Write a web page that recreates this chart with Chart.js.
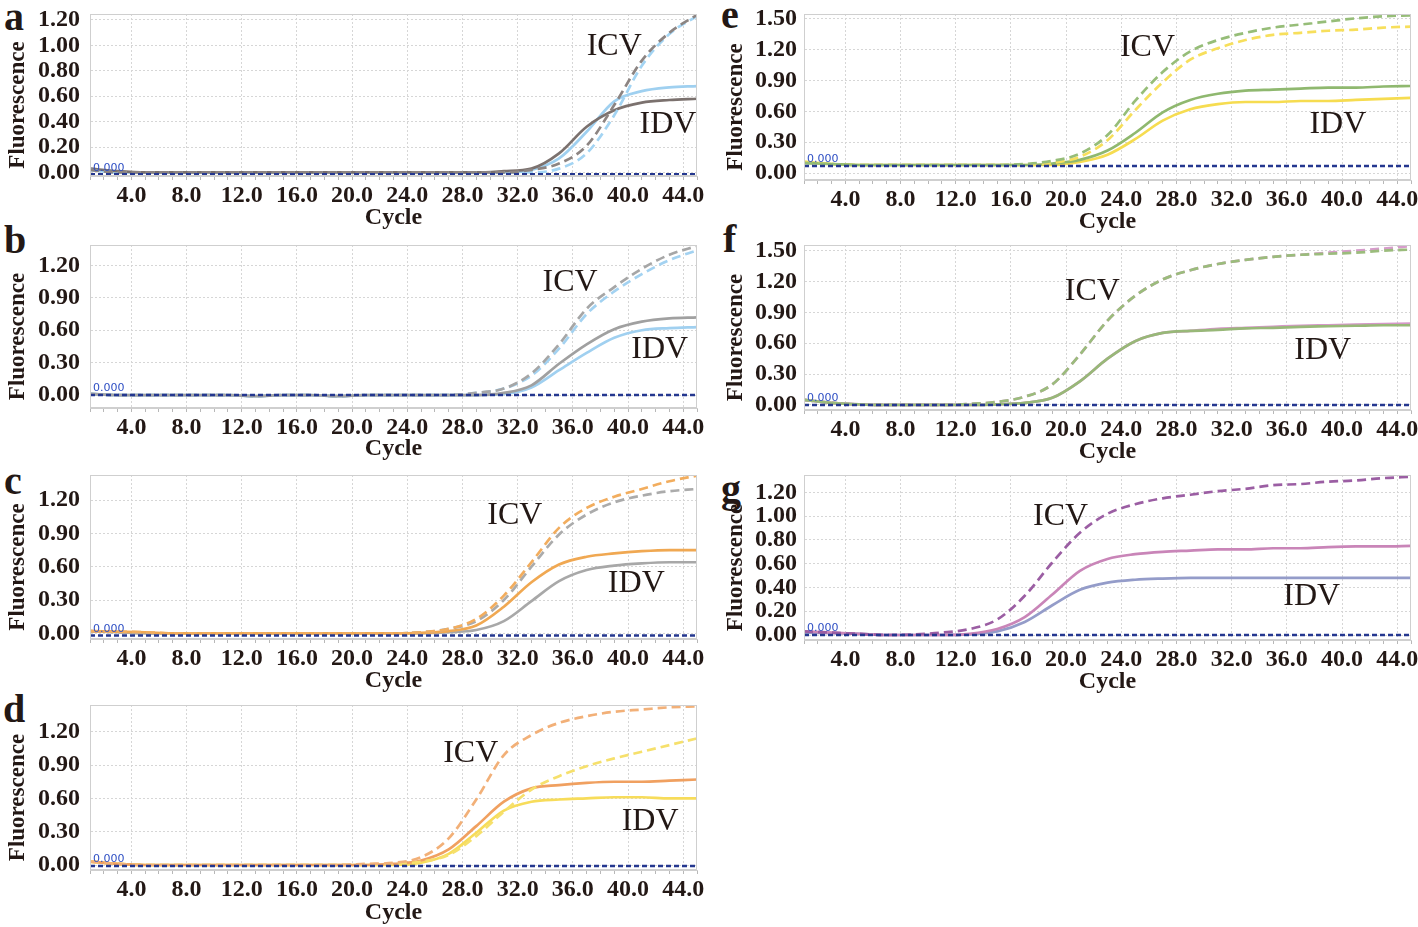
<!DOCTYPE html>
<html>
<head>
<meta charset="utf-8">
<script src="https://cdn.jsdelivr.net/npm/chart.js@4.4.1/dist/chart.umd.min.js"></script>
<style>
  html, body { margin: 0; padding: 0; background: #fff; }
  body { position: relative; width: 1418px; height: 927px; overflow: hidden; }
  canvas { position: absolute; }
  .tag { position: absolute; font: bold 40px "Liberation Serif", serif; line-height: 40px; color: #231815; }
</style>
</head>
<body>
<div class="tag" style="left:4px;top:-3px">a</div>
<div class="tag" style="left:4px;top:220px">b</div>
<div class="tag" style="left:4px;top:461px">c</div>
<div class="tag" style="left:3px;top:689px">d</div>
<div class="tag" style="left:721px;top:-5px">e</div>
<div class="tag" style="left:723px;top:219px">f</div>
<div class="tag" style="left:721px;top:469px">g</div>
<script>
const CYCLES = [1, 3, 5, 7, 9, 11, 13, 15, 17, 19, 21, 23, 25, 27, 29, 31, 33, 35, 37, 39, 41, 43, 45];

const X_TICK_LABELS = ["4.0", "8.0", "12.0", "16.0", "20.0", "24.0", "28.0", "32.0", "36.0", "40.0", "44.0"];
const Y_TICKS_02 = [0, 0.2, 0.4, 0.6, 0.8, 1.0, 1.2];
const Y_TICKS_03 = [0, 0.3, 0.6, 0.9, 1.2];
const Y_TICKS_03_HI = [0, 0.3, 0.6, 0.9, 1.2, 1.5];

// a
const A_GRAY_IDV = [0.03, 0.01, 0, 0, 0, 0, 0, 0, 0, 0, 0, 0, 0, 0, 0, 0.01, 0.03, 0.15, 0.36, 0.49, 0.55, 0.57, 0.58];
const A_BLUE_IDV = [0.02, 0, 0, 0, 0, 0, 0, 0, 0, 0, 0, 0, 0, 0, 0, 0, 0.02, 0.11, 0.32, 0.56, 0.64, 0.67, 0.68];
const A_GRAY_ICV = [0.02, 0, 0, 0, 0, 0, 0, 0, 0, 0, 0, 0, 0, 0, 0, 0, 0.02, 0.07, 0.21, 0.53, 0.88, 1.10, 1.24];
const A_BLUE_ICV = [0.02, 0, 0, 0, 0, 0, 0, 0, 0, 0, 0, 0, 0, 0, 0, 0, 0, 0.03, 0.15, 0.45, 0.84, 1.09, 1.23];
const A_THRESHOLD = -0.015;

// b
const B_GRAY_IDV = [0.01, 0, 0, 0, 0, 0, -0.01, 0, 0, -0.01, 0, 0, 0, 0, 0, 0.02, 0.09, 0.29, 0.47, 0.61, 0.68, 0.71, 0.72];
const B_BLUE_IDV = [0.01, 0, 0, 0, 0, 0, -0.01, 0, 0, -0.01, 0, 0, 0, 0, 0, 0.01, 0.07, 0.23, 0.39, 0.53, 0.60, 0.62, 0.63];
const B_GRAY_ICV = [0.01, 0, 0, 0, 0, 0, -0.01, 0, 0, -0.01, 0, 0, 0, 0, 0.02, 0.06, 0.20, 0.47, 0.80, 1.00, 1.17, 1.30, 1.38];
const B_BLUE_ICV = [0.01, 0, 0, 0, 0, 0, -0.01, 0, 0, -0.01, 0, 0, 0, 0, 0.02, 0.06, 0.18, 0.43, 0.75, 0.96, 1.12, 1.25, 1.34];
const B_THRESHOLD = 0;

// c
const C_ORANGE_ICV = [0.02, 0.015, 0.01, 0, 0, 0, 0, 0, 0, 0, 0, 0, 0.01, 0.04, 0.13, 0.34, 0.64, 0.95, 1.13, 1.23, 1.30, 1.37, 1.42];
const C_GRAY_ICV = [0.02, 0.01, 0, 0, 0, 0, 0, 0, 0, 0, 0, 0, 0.01, 0.04, 0.11, 0.30, 0.60, 0.89, 1.07, 1.18, 1.24, 1.28, 1.30];
const C_ORANGE_IDV = [0.02, 0.015, 0.01, 0, 0, 0, 0, 0, 0, 0, 0, 0, 0.005, 0.02, 0.07, 0.24, 0.46, 0.62, 0.69, 0.72, 0.74, 0.75, 0.75];
const C_GRAY_IDV = [0.02, 0.01, 0, 0, 0, 0, 0, 0, 0, 0, 0, 0, 0, 0.01, 0.03, 0.11, 0.29, 0.47, 0.57, 0.61, 0.63, 0.64, 0.64];
const C_THRESHOLD = -0.02;

// d
const D_ORANGE_ICV = [0.03, 0.01, 0, 0, 0, 0, 0, 0, 0, 0, 0.01, 0.02, 0.07, 0.24, 0.59, 0.99, 1.17, 1.28, 1.34, 1.38, 1.40, 1.42, 1.43];
const D_YELLOW_ICV = [0.03, 0.01, 0, 0, 0, 0, 0, 0, 0, 0, 0, 0.01, 0.03, 0.09, 0.26, 0.48, 0.68, 0.80, 0.89, 0.96, 1.02, 1.08, 1.14];
const D_ORANGE_IDV = [0.03, 0.01, 0, 0, 0, 0, 0, 0, 0, 0, 0, 0.01, 0.04, 0.14, 0.35, 0.57, 0.69, 0.72, 0.74, 0.75, 0.75, 0.76, 0.77];
const D_YELLOW_IDV = [0.03, 0.01, 0, 0, 0, 0, 0, 0, 0, 0, 0, 0, 0.02, 0.10, 0.29, 0.49, 0.57, 0.59, 0.60, 0.61, 0.61, 0.60, 0.60];
const D_THRESHOLD = -0.01;

// e
const E_GREEN_ICV = [0.10, 0.09, 0.08, 0.08, 0.08, 0.08, 0.08, 0.08, 0.09, 0.12, 0.19, 0.37, 0.70, 0.98, 1.18, 1.29, 1.36, 1.41, 1.44, 1.47, 1.50, 1.52, 1.53];
const E_YELLOW_ICV = [0.11, 0.09, 0.08, 0.08, 0.08, 0.08, 0.08, 0.08, 0.08, 0.10, 0.16, 0.32, 0.61, 0.88, 1.10, 1.21, 1.29, 1.34, 1.36, 1.38, 1.39, 1.41, 1.42];
const E_GREEN_IDV = [0.10, 0.09, 0.08, 0.08, 0.08, 0.08, 0.08, 0.08, 0.08, 0.095, 0.13, 0.22, 0.39, 0.59, 0.71, 0.77, 0.80, 0.81, 0.82, 0.83, 0.83, 0.84, 0.845];
const E_YELLOW_IDV = [0.11, 0.09, 0.08, 0.08, 0.08, 0.08, 0.08, 0.08, 0.08, 0.08, 0.11, 0.18, 0.33, 0.51, 0.62, 0.67, 0.69, 0.69, 0.70, 0.70, 0.71, 0.72, 0.73];
const E_THRESHOLD = 0.07;

// f
const F_PINK_ICV = [0.05, 0.02, 0.005, 0, 0, 0, 0.01, 0.03, 0.08, 0.20, 0.49, 0.82, 1.06, 1.22, 1.31, 1.37, 1.41, 1.44, 1.46, 1.48, 1.50, 1.52, 1.545];
const F_GREEN_ICV = [0.05, 0.02, 0.005, 0, 0, 0, 0.01, 0.03, 0.08, 0.20, 0.49, 0.82, 1.06, 1.22, 1.31, 1.37, 1.41, 1.44, 1.46, 1.47, 1.48, 1.50, 1.51];
const F_PINK_IDV = [0.05, 0.02, 0.005, 0, 0, 0, 0, 0.005, 0.02, 0.07, 0.23, 0.45, 0.62, 0.70, 0.72, 0.74, 0.75, 0.76, 0.77, 0.775, 0.78, 0.785, 0.79];
const F_GREEN_IDV = [0.05, 0.02, 0.005, 0, 0, 0, 0, 0.005, 0.02, 0.07, 0.23, 0.45, 0.62, 0.70, 0.72, 0.73, 0.745, 0.75, 0.76, 0.765, 0.77, 0.775, 0.775];
const F_THRESHOLD = 0;

// g
const G_PURPLE_ICV = [0.03, 0.02, 0.01, 0, 0.005, 0.02, 0.05, 0.13, 0.33, 0.61, 0.86, 1.02, 1.10, 1.15, 1.18, 1.21, 1.23, 1.26, 1.27, 1.29, 1.30, 1.32, 1.33];
const G_PINK_IDV = [0.03, 0.02, 0.01, 0, 0, 0, 0.01, 0.05, 0.15, 0.34, 0.54, 0.64, 0.68, 0.70, 0.71, 0.72, 0.72, 0.73, 0.73, 0.74, 0.745, 0.745, 0.75];
const G_BLUE_IDV = [0.02, 0.015, 0.01, 0, 0, 0, 0.005, 0.03, 0.11, 0.25, 0.38, 0.44, 0.465, 0.475, 0.48, 0.48, 0.48, 0.48, 0.48, 0.48, 0.48, 0.48, 0.48];
const G_THRESHOLD = 0;

const INK = "#231815";
const GRID = "#d6d6d6";
const FRAME = "#cfcfcf";
const SERIF = '"Liberation Serif", "Times New Roman", serif';

function curve(values, color, dashed) {
  return {
    data: CYCLES.map((c, i) => ({ x: c, y: values[i] })),
    borderColor: color,
    borderWidth: 2.7,
    borderDash: dashed ? [9, 5] : [],
    pointRadius: 0,
    cubicInterpolationMode: "monotone",
    fill: false
  };
}

function thresholdLine(t) {
  return {
    data: [{ x: 1, y: t }, { x: 45, y: t }],
    borderColor: "#24378f",
    borderWidth: 2.5,
    borderDash: [5, 3],
    pointRadius: 0
  };
}

// no extra room for the edge tick labels: the plot box is pinned by the padding
function pinScale(s, key, size) {
  s[key] = size;
  s.paddingTop = 0;
  s.paddingBottom = 0;
  s.paddingLeft = 0;
  s.paddingRight = 0;
}

// frame, y title, the blue "0.000" threshold tag and the ICV / IDV captions
const panelDecor = {
  id: "panelDecor",
  afterDatasetsDraw(chart, args, opts) {
    const { ctx, chartArea: a, scales: { x, y } } = chart;
    ctx.save();
    ctx.strokeStyle = FRAME;
    ctx.lineWidth = 1;
    ctx.strokeRect(a.left + 0.5, a.top + 0.5, a.width - 1, a.height - 1);

    ctx.fillStyle = "#2f4fc4";
    ctx.font = '11px "DejaVu Sans", sans-serif';
    ctx.textBaseline = "bottom";
    ctx.fillText("0.000", a.left + 3, y.getPixelForValue(opts.threshold) - 1);

    ctx.fillStyle = INK;
    ctx.font = "32px " + SERIF;
    ctx.textAlign = "center";
    ctx.textBaseline = "middle";
    opts.captions.forEach(c => ctx.fillText(c.text, x.getPixelForValue(c.x), y.getPixelForValue(c.y)));

    // axis title sits a little below the middle of the plot, as in the figure
    ctx.font = "bold 23px " + SERIF;
    ctx.translate(opts.titleX, (a.top + a.bottom) / 2 + 10);
    ctx.rotate(-Math.PI / 2);
    ctx.fillText("Fluorescence", 0, 0);
    ctx.restore();
  }
};

function makePanel(p) {
  const canvas = document.createElement("canvas");
  canvas.width = p.w;
  canvas.height = p.h;
  canvas.style.left = p.left + "px";
  canvas.style.top = p.top + "px";
  canvas.style.width = p.w + "px";
  canvas.style.height = p.h + "px";
  document.body.appendChild(canvas);

  new Chart(canvas, {
    type: "line",
    data: {
      datasets: [thresholdLine(p.threshold)].concat(p.series.map(s => curve(s[0], s[1], s[2])))
    },
    options: {
      responsive: false,
      animation: false,
      events: [],
      layout: { padding: { top: p.padTop, right: p.padRight, left: 0, bottom: 0 } },
      plugins: {
        legend: { display: false },
        tooltip: { enabled: false },
        panelDecor: { threshold: p.threshold, captions: p.captions, titleX: p.titleX }
      },
      scales: {
        x: {
          type: "linear",
          min: 1,
          max: 45,
          afterFit: s => pinScale(s, "height", p.xh),
          ticks: {
            stepSize: 1,
            autoSkip: false,
            maxRotation: 0,
            padding: 1,
            color: INK,
            font: { family: SERIF, size: 24, weight: "bold" },
            callback: v => (v % 4 === 0 ? X_TICK_LABELS[v / 4 - 1] : "")
          },
          grid: {
            color: c => (c.tick && c.tick.value % 4 === 0 ? GRID : "rgba(0,0,0,0)"),
            tickColor: "#b8b8b8",
            tickLength: 4
          },
          border: { color: FRAME, dash: [2, 2] },
          title: {
            display: true,
            text: "Cycle",
            color: INK,
            font: { family: SERIF, size: 24, weight: "bold" },
            padding: { top: 0, bottom: 0 }
          }
        },
        y: {
          min: p.yMin,
          max: p.yMax,
          afterFit: s => pinScale(s, "width", 90),
          afterBuildTicks: s => { s.ticks = p.yTicks.map(v => ({ value: v })); },
          ticks: {
            autoSkip: false,
            padding: p.tickPad,
            color: INK,
            font: { family: SERIF, size: 24, weight: "bold" },
            callback: v => v.toFixed(2)
          },
          grid: { color: GRID, drawTicks: false },
          border: { color: FRAME, dash: [2, 2] },
          title: { display: false }
        }
      }
    },
    plugins: [panelDecor]
  });
}

const LEFT = { left: 0, w: 712, padRight: 15, titleX: 18, tickPad: 10 };
const RIGHT = { left: 714, w: 704, padRight: 7, titleX: 22, tickPad: 7 };

const panels = [
  Object.assign({}, LEFT, {
    top: 0, h: 232, padTop: 14, xh: 56, yMin: -0.028, yMax: 1.247, yTicks: Y_TICKS_02, threshold: A_THRESHOLD,
    series: [[A_GRAY_ICV, "#8c8482", true], [A_BLUE_ICV, "#a3d4f3", true], [A_GRAY_IDV, "#7b716e", false], [A_BLUE_IDV, "#9fd0f0", false]],
    captions: [{ text: "ICV", x: 39.0, y: 0.99 }, { text: "IDV", x: 42.9, y: 0.375 }]
  }),
  Object.assign({}, LEFT, {
    top: 231, h: 232, padTop: 14, xh: 55, yMin: -0.12, yMax: 1.39, yTicks: Y_TICKS_03, threshold: B_THRESHOLD,
    series: [[B_GRAY_ICV, "#a6a6a6", true], [B_BLUE_ICV, "#a3d2f1", true], [B_GRAY_IDV, "#a0a0a0", false], [B_BLUE_IDV, "#a0d0f0", false]],
    captions: [{ text: "ICV", x: 35.8, y: 1.04 }, { text: "IDV", x: 42.3, y: 0.42 }]
  }),
  Object.assign({}, LEFT, {
    top: 461, h: 234, padTop: 14, xh: 56, yMin: -0.051, yMax: 1.426, yTicks: Y_TICKS_03, threshold: C_THRESHOLD,
    series: [[C_ORANGE_ICV, "#f2ad5e", true], [C_GRAY_ICV, "#ababab", true], [C_ORANGE_IDV, "#f0a852", false], [C_GRAY_IDV, "#a8a8a8", false]],
    captions: [{ text: "ICV", x: 31.8, y: 1.06 }, { text: "IDV", x: 40.6, y: 0.45 }]
  }),
  Object.assign({}, LEFT, {
    top: 691, h: 236, padTop: 14, xh: 57, yMin: -0.045, yMax: 1.441, yTicks: Y_TICKS_03, threshold: D_THRESHOLD,
    series: [[D_ORANGE_ICV, "#f2b078", true], [D_YELLOW_ICV, "#f6e06c", true], [D_ORANGE_IDV, "#f0a060", false], [D_YELLOW_IDV, "#f7dc5a", false]],
    captions: [{ text: "ICV", x: 28.6, y: 1.0 }, { text: "IDV", x: 41.6, y: 0.39 }]
  }),
  Object.assign({}, RIGHT, {
    top: 0, h: 236, padTop: 14, xh: 56, yMin: -0.065, yMax: 1.542, yTicks: Y_TICKS_03_HI, threshold: E_THRESHOLD,
    series: [[E_GREEN_ICV, "#96bd78", true], [E_YELLOW_ICV, "#f7df5c", true], [E_GREEN_IDV, "#8fb86f", false], [E_YELLOW_IDV, "#f6dc50", false]],
    captions: [{ text: "ICV", x: 25.9, y: 1.22 }, { text: "IDV", x: 39.7, y: 0.47 }]
  }),
  Object.assign({}, RIGHT, {
    top: 231, h: 235, padTop: 14, xh: 56, yMin: -0.049, yMax: 1.555, yTicks: Y_TICKS_03_HI, threshold: F_THRESHOLD,
    series: [[F_GREEN_ICV, "#9bbc7c", true], [F_PINK_ICV, "#d69ccb", true], [F_GREEN_IDV, "#98b878", false], [F_PINK_IDV, "#d598c8", false]],
    captions: [{ text: "ICV", x: 21.9, y: 1.10 }, { text: "IDV", x: 38.6, y: 0.53 }]
  }),
  Object.assign({}, RIGHT, {
    top: 461, h: 235, padTop: 14, xh: 56, yMin: -0.042, yMax: 1.346, yTicks: Y_TICKS_02, threshold: G_THRESHOLD,
    series: [[G_PURPLE_ICV, "#9b5ea3", true], [G_PINK_IDV, "#c985b8", false], [G_BLUE_IDV, "#949cc9", false]],
    captions: [{ text: "ICV", x: 19.6, y: 1.0 }, { text: "IDV", x: 37.8, y: 0.32 }]
  })
];

panels.forEach(makePanel);
</script>
</body>
</html>
